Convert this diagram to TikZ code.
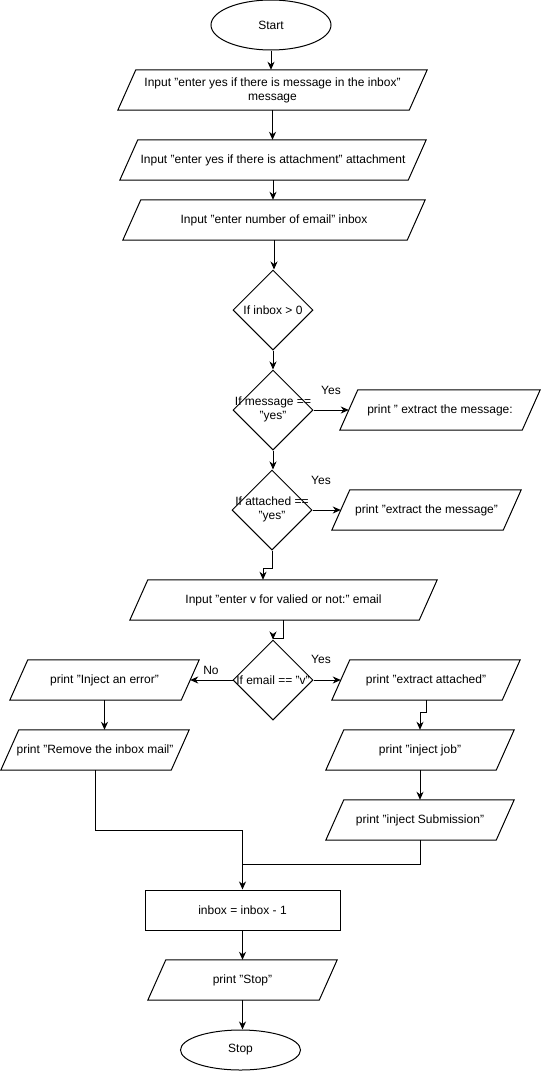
\documentclass[tikz,border=0pt]{standalone}
\usepackage{fontspec}
\setmainfont{Liberation Sans}
\usetikzlibrary{shapes.geometric,arrows.meta,calc}
\begin{document}
\begin{tikzpicture}[x=1pt,y=-1pt,
  font=\fontsize{12}{14}\selectfont,
  every node/.style={inner sep=0pt},
  base/.style={draw=black, line width=1pt},
  term/.style={base, ellipse, minimum width=120pt},
  iobox/.style={rectangle, minimum height=40pt, align=center},
  ioline/.style={draw=black, line width=1pt},
  dec/.style={base, diamond, minimum width=80pt, minimum height=80pt},
  proc/.style={base, rectangle, minimum width=195pt, minimum height=40pt},
  arr/.style={line width=1pt, -{Stealth[length=8pt,width=7pt,inset=2.5pt]}},
  lnk/.style={line width=1pt},
  lbl/.style={inner sep=0pt}
]
\useasboundingbox (0,0) rectangle (541,1071);

% nodes
\node[term, minimum height=50pt] (start) at (271,25) {Start};
\node[iobox, minimum width=309pt] (in1) at (272.5,90) {Input "enter yes if there is message in the inbox"\\message};
\node[iobox, minimum width=306pt] (in2) at (273,160) {Input "enter yes if there is attachment" attachment};
\node[iobox, minimum width=302pt] (in3) at (274,220) {Input "enter number of email" inbox};
\node[dec] (d1) at (273,310) {\makebox[0pt]{If inbox > 0}};
\node[dec] (d2) at (273,410) {\makebox[0pt]{\begin{tabular}{@{}c@{}}If message ==\\"yes"\end{tabular}}};
\node[iobox, minimum width=200pt] (p1) at (440,410) {print " extract the message:};
\node[dec] (d3) at (272,510) {\makebox[0pt]{\begin{tabular}{@{}c@{}}If attached ==\\"yes"\end{tabular}}};
\node[iobox, minimum width=189pt] (p2) at (426.5,510) {print "extract the message"};
\node[iobox, minimum width=307pt] (in4) at (283.5,600) {Input "enter v for valied or not:" email};
\node[dec] (d4) at (273,680) {\makebox[0pt]{If email == "v"}};
\node[iobox, minimum width=189pt] (p3) at (104.5,680) {print "Inject an error"};
\node[iobox, minimum width=188pt] (p4) at (95,750) {print "Remove the inbox mail"};
\node[iobox, minimum width=188pt] (p5) at (426,680) {print "extract attached"};
\node[iobox, minimum width=188pt] (p6) at (420,750) {print "inject job"};
\node[iobox, minimum width=188pt] (p7) at (420,820) {print "inject Submission"};
\node[proc] (r1) at (242.5,910) {inbox = inbox - 1};
\node[iobox, minimum width=189pt] (p8) at (242.5,980) {print "Stop"};
\node[term, minimum height=40pt] (stop) at (240.5,1050) {Stop};

% parallelogram outlines
\foreach \n in {in1,in2,in3,p1,p2,in4,p3,p4,p5,p6,p7,p8}
  \draw[ioline] (\n.south west) -- ($(\n.north west)+(18,0)$) -- (\n.north east) -- ($(\n.south east)+(-18,0)$) -- cycle;

% labels
\node[lbl] (yes1) at (331,390) {Yes};
\node[lbl] (yes2) at (321,480) {Yes};
\node[lbl] (no1) at (211,670) {No};
\node[lbl] (yes3) at (321,659) {Yes};

% helper coordinates
\coordinate (in4in) at ($(in4.north)+(-20.5,0)$);
\coordinate (j1) at ($(r1.north)+(0,-25)$);

% connectors
\draw[arr] (start.south) -- (start.south |- in1.north);
\draw[arr] (in1.south) -- (in1.south |- in2.north);
\draw[arr] (in2.south) -- (in2.south |- in3.north);
\draw[arr] (in3.south) -- (in3.south |- d1.north);
\draw[arr] (d1.south) -- (d2.north);
\draw[arr] (d2.east) -- ($(p1.west)+(9,0)$);
\draw[arr] (d2.south) -- (d2.south |- d3.north);
\draw[arr] (d3.east) -- ($(p2.west)+(9,0)$);
\draw[arr] (d3.south) -- ++(0,18) -| (in4in);
\draw[arr] (in4.south) -- ++(0,18) -| (d4.north);
\draw[arr] (d4.west) -- ($(p3.east)+(-9,0)$);
\draw[arr] (d4.east) -- ($(p5.west)+(9,0)$);
\draw[arr] (p3.south) -- (p3.south |- p4.north);
\draw[arr] (p5.south) -- ++(0,12) -| (p6.north);
\draw[arr] (p6.south) -- (p6.south |- p7.north);
\draw[arr] (p4.south) -- ++(0,60) -| (r1.north);
\draw[lnk] (p7.south) |- (j1);
\draw[arr] (r1.south) -- (r1.south |- p8.north);
\draw[arr] (p8.south) -- (p8.south |- stop.north);
\end{tikzpicture}
\end{document}
